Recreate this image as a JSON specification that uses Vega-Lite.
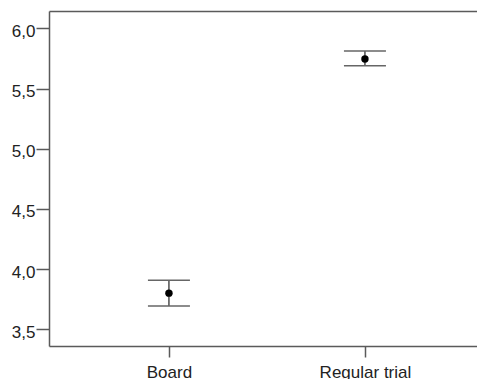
{
  "$schema": "https://vega.github.io/schema/vega-lite/v6.json",
  "autosize": {"type": "none"},
  "padding": {"left": 49, "top": 11, "right": 0, "bottom": 33},
  "width": 428,
  "height": 335,
  "background": "white",
  "config": {
    "view": {"stroke": null},
    "font": "Liberation Sans"
  },
  "data": {
    "values": [
      {"cond": "Board", "mean": 3.80, "lo": 3.694, "hi": 3.907},
      {"cond": "Regular trial", "mean": 5.745, "lo": 5.689, "hi": 5.811}
    ]
  },
  "resolve": {"axis": {"x": "independent"}},
  "layer": [
    {
      "mark": {"type": "rule", "color": "#222222", "strokeWidth": 1.2},
      "encoding": {
        "x": {
          "field": "cond",
          "type": "nominal",
          "sort": null,
          "scale": {"type": "point", "padding": 0.5918, "align": 0.517},
          "axis": {
            "orient": "bottom",
            "title": null,
            "domain": true,
            "domainColor": "#5a5a5a",
            "domainWidth": 1.5,
            "grid": false,
            "labelAngle": 0,
            "labelFontSize": 17,
            "labelColor": "#222222",
            "tickColor": "#5a5a5a",
            "tickWidth": 1.5,
            "tickSize": 11,
            "labelPadding": 7
          }
        },
        "y": {
          "field": "lo",
          "type": "quantitative",
          "scale": {"domain": [3.361, 6.144], "nice": false, "zero": false},
          "axis": {
            "title": null,
            "domain": true,
            "domainColor": "#5a5a5a",
            "domainWidth": 1.5,
            "grid": false,
            "values": [3.5, 4.0, 4.5, 5.0, 5.5, 6.0],
            "labelExpr": "replace(format(datum.value, '.1f'), '.', ',')",
            "labelFontSize": 17,
            "labelColor": "#222222",
            "tickColor": "#5a5a5a",
            "tickWidth": 1.5,
            "tickSize": 13,
            "labelPadding": 1,
            "labelOffset": 3
          }
        },
        "y2": {"field": "hi"}
      }
    },
    {
      "mark": {"type": "tick", "orient": "horizontal", "color": "#666666", "size": 42, "thickness": 1.5, "opacity": 1},
      "encoding": {
        "x": {
          "field": "cond",
          "type": "nominal",
          "sort": null,
          "axis": {
            "orient": "top",
            "title": null,
            "domain": true,
            "domainColor": "#5a5a5a",
            "domainWidth": 1.5,
            "labels": false,
            "ticks": false,
            "grid": false
          }
        },
        "y": {"field": "lo", "type": "quantitative"}
      }
    },
    {
      "mark": {"type": "tick", "orient": "horizontal", "color": "#666666", "size": 42, "thickness": 1.5, "opacity": 1},
      "encoding": {
        "x": {"field": "cond", "type": "nominal", "sort": null, "axis": null},
        "y": {"field": "hi", "type": "quantitative"}
      }
    },
    {
      "mark": {"type": "point", "filled": true, "color": "black", "size": 55, "opacity": 1},
      "encoding": {
        "x": {"field": "cond", "type": "nominal", "sort": null, "axis": null},
        "y": {"field": "mean", "type": "quantitative"}
      }
    }
  ]
}
